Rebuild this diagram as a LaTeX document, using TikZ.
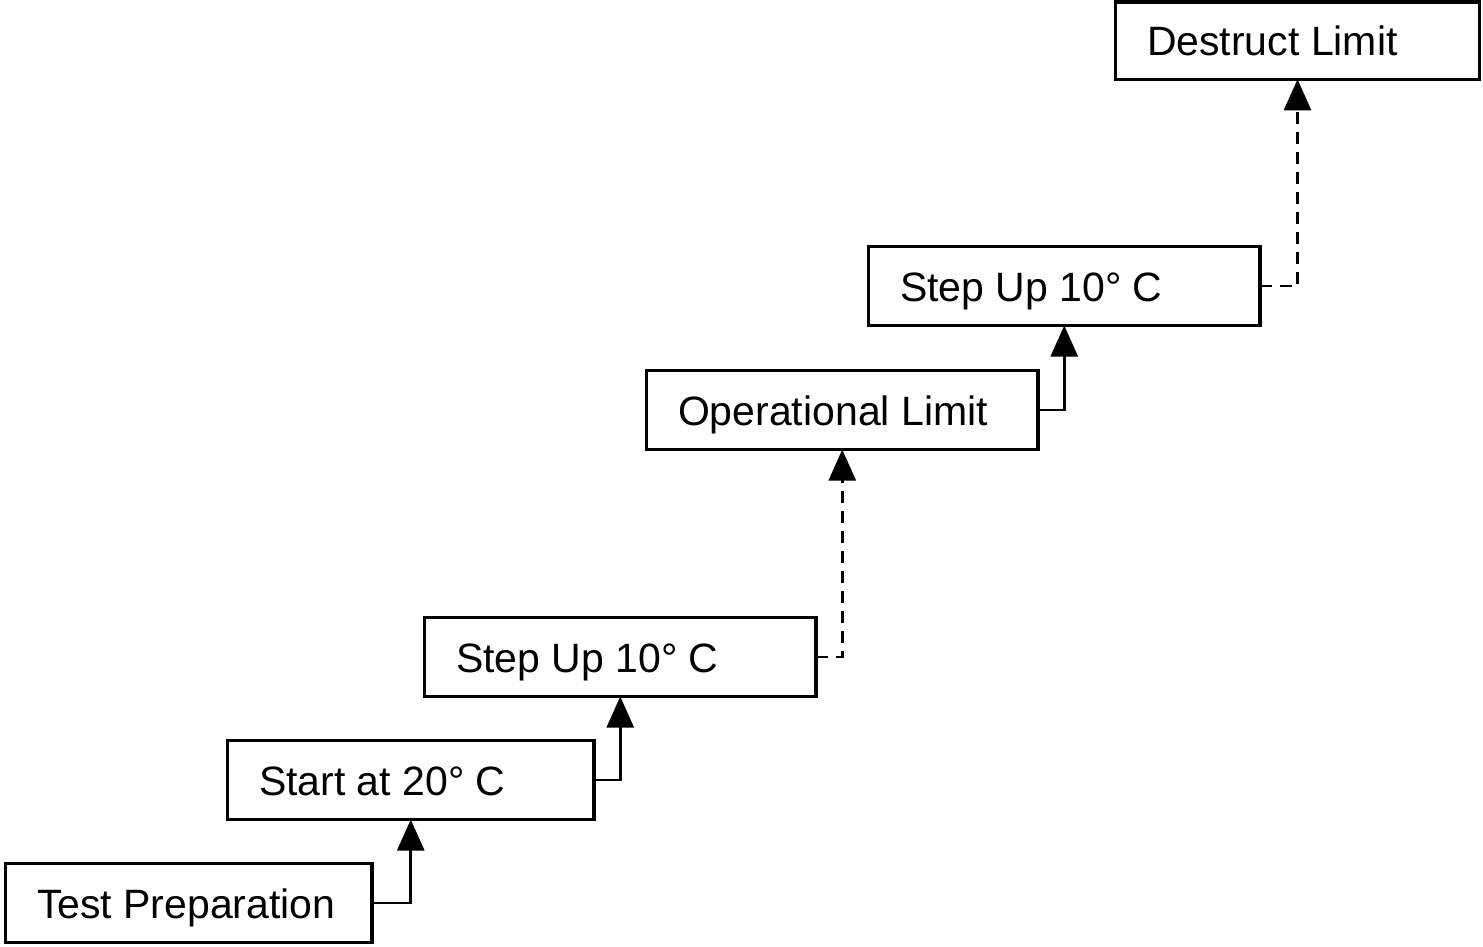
\documentclass[tikz,border=0pt]{standalone}
\usepackage{fontspec}
\setmainfont{Liberation Sans}
\usetikzlibrary{arrows.meta}
\begin{document}
\begin{tikzpicture}[x=1pt,y=-1pt,
  box/.style={draw,line width=3.5pt,rectangle,anchor=north west,inner ysep=0pt,inner xsep=31.5pt,outer sep=0pt,
    minimum height=79pt,text height=31pt,text depth=1pt,font=\fontsize{41}{48}\selectfont,align=flush left},
  narrow/.style={minimum width=366.5pt,text width=303.5pt},
  wide/.style={minimum width=391.5pt,text width=328.5pt},
  conn/.style={line width=2.6pt,-{Triangle[width=27pt,length=31pt]}},
  dconn/.style={conn,dash pattern=on 12pt off 8pt}]
\useasboundingbox (0,0) rectangle (1483,946);
\node[box,narrow] (tp) at (5.5,863.5) {Test Preparation};
\node[box,narrow] (st) at (227.5,740.5) {Start at 20° C};
\node[box,wide] (s1) at (424.5,617.5) {Step Up 10° C};
\node[box,wide] (op) at (646.5,370.5) {Operational Limit};
\node[box,wide] (s2) at (868.5,246.5) {Step Up 10° C};
\node[box,minimum width=364pt,text width=301pt,minimum height=77.5pt] (dl) at (1115.5,1.75) {Destruct Limit};
\draw[conn] (tp.east) -| (st.south);
\draw[conn] (st.east) -| (s1.south);
\draw[dconn] (s1.east) -| (op.south);
\draw[conn] (op.east) -| (s2.south);
\draw[dconn] (s2.east) -| (dl.south);
\end{tikzpicture}
\end{document}
